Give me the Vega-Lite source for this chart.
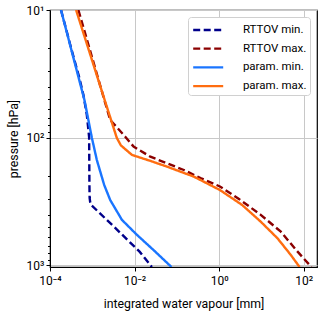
{
  "$schema": "https://vega.github.io/schema/vega-lite/v6.json",
  "width": 267,
  "height": 257,
  "autosize": {"type": "none"},
  "padding": {"left": 50, "top": 10, "right": 3, "bottom": 47},
  "background": "white",
  "config": {
    "font": "Roboto",
    "view": {"stroke": "black", "strokeWidth": 1.2},
    "axis": {
      "labelFont": "Roboto", "titleFont": "Roboto",
      "labelFontSize": 12, "titleFontSize": 12.3,
      "titleFontWeight": "normal", "labelColor": "black", "titleColor": "black",
      "domainColor": "black", "tickColor": "black",
      "gridColor": "#c8c8c8", "gridWidth": 1
    },
    "legend": {
      "title": null, "orient": "top-right", "offset": 7,
      "symbolType": "M-1.6667,0H1.6667", "symbolSize": 324, "symbolStrokeWidth": 2.3,
      "symbolOffset": 7.2, "labelOffset": 24.2, "rowPadding": 2.7,
      "labelFontSize": 11.5, "labelFont": "Roboto", "labelColor": "black",
      "padding": 2.5, "strokeColor": "#d0d0d0", "fillColor": "white", "cornerRadius": 3
    }
  },
  "data": {"values": [
    {"series": "RTTOV min.", "p": 10, "iwv": 0.000182},
    {"series": "RTTOV min.", "p": 20.6, "iwv": 0.000325},
    {"series": "RTTOV min.", "p": 33.5, "iwv": 0.000488},
    {"series": "RTTOV min.", "p": 46.3, "iwv": 0.000617},
    {"series": "RTTOV min.", "p": 66.4, "iwv": 0.000743},
    {"series": "RTTOV min.", "p": 98.9, "iwv": 0.000841},
    {"series": "RTTOV min.", "p": 234.5, "iwv": 0.000855},
    {"series": "RTTOV min.", "p": 296.5, "iwv": 0.000865},
    {"series": "RTTOV min.", "p": 319, "iwv": 0.00089},
    {"series": "RTTOV min.", "p": 336.6, "iwv": 0.00094},
    {"series": "RTTOV min.", "p": 509, "iwv": 0.00348},
    {"series": "RTTOV min.", "p": 781, "iwv": 0.0131},
    {"series": "RTTOV min.", "p": 1030, "iwv": 0.0256},
    {"series": "RTTOV max.", "p": 10, "iwv": 0.000469},
    {"series": "RTTOV max.", "p": 20.6, "iwv": 0.000879},
    {"series": "RTTOV max.", "p": 50.7, "iwv": 0.00193},
    {"series": "RTTOV max.", "p": 72.6, "iwv": 0.00265},
    {"series": "RTTOV max.", "p": 98.2, "iwv": 0.00601},
    {"series": "RTTOV max.", "p": 117.5, "iwv": 0.00946},
    {"series": "RTTOV max.", "p": 140.9, "iwv": 0.0236},
    {"series": "RTTOV max.", "p": 179.1, "iwv": 0.146},
    {"series": "RTTOV max.", "p": 207, "iwv": 0.362},
    {"series": "RTTOV max.", "p": 241, "iwv": 1.04},
    {"series": "RTTOV max.", "p": 302, "iwv": 2.93},
    {"series": "RTTOV max.", "p": 402, "iwv": 9.59},
    {"series": "RTTOV max.", "p": 545, "iwv": 28.6},
    {"series": "RTTOV max.", "p": 781, "iwv": 71.3},
    {"series": "RTTOV max.", "p": 1030, "iwv": 151},
    {"series": "param. min.", "p": 10, "iwv": 0.000182},
    {"series": "param. min.", "p": 20.6, "iwv": 0.000321},
    {"series": "param. min.", "p": 50.7, "iwv": 0.000652},
    {"series": "param. min.", "p": 100, "iwv": 0.000975},
    {"series": "param. min.", "p": 149.6, "iwv": 0.00128},
    {"series": "param. min.", "p": 234.5, "iwv": 0.00191},
    {"series": "param. min.", "p": 307.6, "iwv": 0.00265},
    {"series": "param. min.", "p": 440.6, "iwv": 0.00502},
    {"series": "param. min.", "p": 577.6, "iwv": 0.0114},
    {"series": "param. min.", "p": 757, "iwv": 0.0278},
    {"series": "param. min.", "p": 1030, "iwv": 0.0743},
    {"series": "param. max.", "p": 10, "iwv": 0.000414},
    {"series": "param. max.", "p": 20.6, "iwv": 0.000828},
    {"series": "param. max.", "p": 50.7, "iwv": 0.00196},
    {"series": "param. max.", "p": 100, "iwv": 0.00378},
    {"series": "param. max.", "p": 115, "iwv": 0.00475},
    {"series": "param. max.", "p": 136.5, "iwv": 0.00867},
    {"series": "param. max.", "p": 152, "iwv": 0.0236},
    {"series": "param. max.", "p": 168.7, "iwv": 0.0587},
    {"series": "param. max.", "p": 201.8, "iwv": 0.251},
    {"series": "param. max.", "p": 257, "iwv": 1.04},
    {"series": "param. max.", "p": 336.6, "iwv": 3.49},
    {"series": "param. max.", "p": 455, "iwv": 9.59},
    {"series": "param. max.", "p": 614, "iwv": 23.9},
    {"series": "param. max.", "p": 830, "iwv": 49.4},
    {"series": "param. max.", "p": 1030, "iwv": 79.4}
  ]},
  "mark": {"type": "line", "clip": true, "strokeWidth": 2.4},
  "encoding": {
    "x": {
      "field": "iwv", "type": "quantitative",
      "scale": {"type": "log", "domain": [0.0001, 205], "nice": false},
      "axis": {
        "title": "integrated water vapour [mm]",
        "values": [0.0001, 0.01, 1, 100],
        "labelExpr": "datum.value < 0.001 ? '10⁻⁴' : datum.value < 0.1 ? '10⁻²' : datum.value < 10 ? '10⁰' : '10²'",
        "tickSize": 4, "labelPadding": 4, "titlePadding": 11,
        "grid": true, "labelFlush": false
      }
    },
    "y": {
      "field": "p", "type": "quantitative",
      "scale": {"type": "log", "domain": [10, 1030], "nice": false, "reverse": true},
      "axis": {
        "title": "pressure [hPa]",
        "values": [10, 20, 30, 40, 50, 60, 70, 80, 90, 100, 200, 300, 400, 500, 600, 700, 800, 900, 1000],
        "labelExpr": "datum.value == 10 ? '10¹' : datum.value == 100 ? '10²' : datum.value == 1000 ? '10³' : ''",
        "tickSize": {"condition": {"test": "datum.value == 10 || datum.value == 100 || datum.value == 1000", "value": 4}, "value": 2.5},
        "gridOpacity": {"condition": {"test": "datum.value == 10 || datum.value == 100 || datum.value == 1000", "value": 1}, "value": 0},
        "labelPadding": 2, "titlePadding": 6,
        "grid": true, "labelFlush": false, "labelOverlap": false
      }
    },
    "color": {
      "field": "series", "type": "nominal",
      "scale": {"domain": ["RTTOV min.", "RTTOV max.", "param. min.", "param. max."], "range": ["#00008b", "#8b0000", "#1a75ff", "#ff6d10"]},
      "legend": {"title": null}
    },
    "strokeDash": {
      "field": "series", "type": "nominal",
      "scale": {"domain": ["RTTOV min.", "RTTOV max.", "param. min.", "param. max."], "range": [[7, 3.5], [7, 3.5], [1, 0], [1, 0]]},
      "legend": {"title": null}
    },
    "order": {"field": "p", "type": "quantitative"}
  }
}
